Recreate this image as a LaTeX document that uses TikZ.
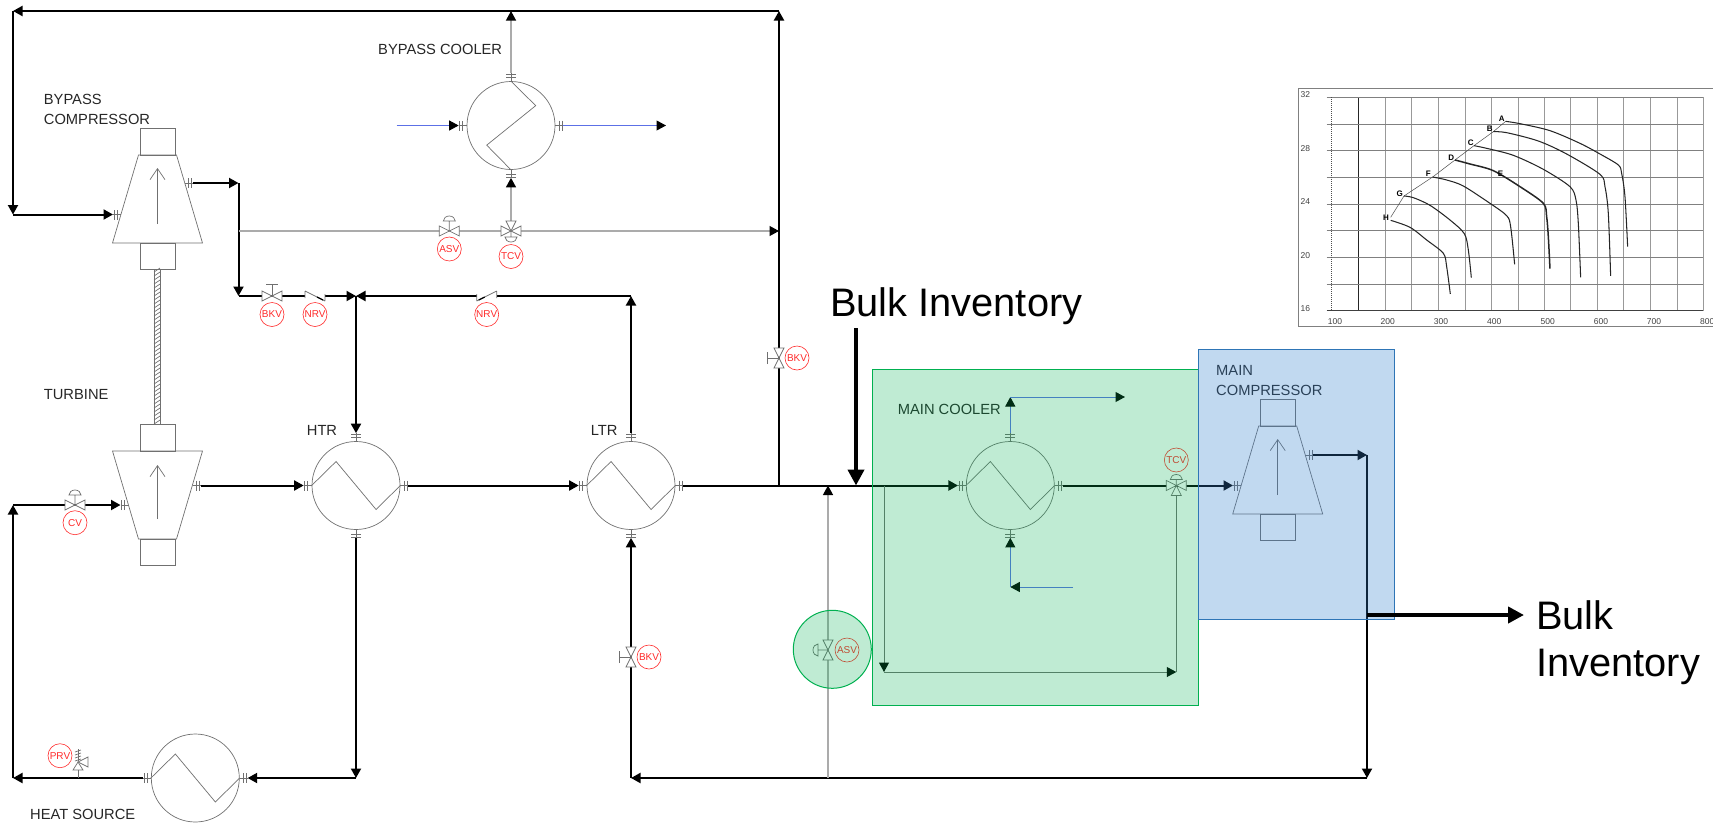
\documentclass[tikz,border=0pt]{standalone}
\usepackage{tikz}
\usepackage{fontspec}
\setmainfont{Liberation Sans}
\usetikzlibrary{arrows.meta}

\definecolor{pipegrey}{HTML}{ABABAB}
\definecolor{equipgrey}{HTML}{707070}
\definecolor{coolblue}{HTML}{5C70E6}
\definecolor{tagred}{HTML}{FF2A2A}
\definecolor{boxgreen}{HTML}{00B050}
\definecolor{boxblue}{HTML}{2E75B6}
\definecolor{tintblue}{HTML}{3380CC}

\newcommand{\valvebody}{\draw[equip,fill=white] (-10,-5) -- (10,5) -- (10,-5) -- (-10,5) -- cycle;}

\tikzset{
  tip/.style={-{Triangle[length=9.5pt,width=10pt,black]}},
  pipe/.style={line width=2pt,tip},
  bleed/.style={line width=1.2pt,pipegrey,tip},
  water/.style={line width=1pt,coolblue,tip},
  thinpipe/.style={line width=1pt,equipgrey},
  bulk/.style={line width=4.6pt,-{Triangle[length=16pt,width=16pt]}},
  equip/.style={line width=.7pt,equipgrey},
  hx/.style={circle,draw,line width=.7pt,equipgrey,minimum size=88pt,inner sep=0pt},
  tag/.style={circle,draw=tagred,text=tagred,line width=.6pt,minimum size=24pt,inner sep=0pt,font=\fontsize{10}{10}\selectfont},
  lbl/.style={anchor=west,align=left,inner sep=0pt,text=black!85,font=\fontsize{14.7}{20}\selectfont},
  bigtxt/.style={anchor=west,align=left,inner sep=0pt,font=\fontsize{39.8}{47}\selectfont},
  axistxt/.style={text=black!75,font=\fontsize{8.5}{8.5}\selectfont},
  curvetxt/.style={font=\bfseries\fontsize{8}{8}\selectfont},
  curve/.style={line width=1.05pt,black!85},
  pics/flange/.style={code={
    \draw[equip] (0,0) -- (8,0) (4,-5) -- (4,5) (7,-5) -- (7,5);
  }},
  pics/handvalve/.style={code={
    \valvebody
    \draw[equip] (0,0) -- (0,-12) (-6,-12) -- (6,-12);
  }},
  pics/ctrlvalve/.style={code={
    \valvebody
    \draw[equip] (0,0) -- (0,-10) (-6,-10) arc[start angle=180,end angle=360,x radius=6,y radius=5] -- cycle;
  }},
  pics/threeway/.style={code={
    \valvebody
    \draw[equip,fill=white] (0,0) -- (-5,-10) -- (5,-10) -- cycle;
    \draw[equip] (0,0) -- (0,6) (-6,6) arc[start angle=180,end angle=0,x radius=6,y radius=5] -- cycle;
  }},
  pics/checkvalve/.style={code={
    \fill[white] (-10,-6) rectangle (10,6);
    \draw[equip] (-10,-5) -- (-10,2) (10,-2) -- (10,5) (-10,-5) -- (10,5);
    \draw[line width=1.2pt] (2,1) -- (8,4);
  }},
  pics/reliefvalve/.style={code={
    \draw[equip,fill=white] (0,-4) -- (-5,4) -- (5,4) -- cycle;
    \draw[equip,fill=white] (0,-4) -- (10,-9) -- (10,1) -- cycle;
    \draw[equip] (0,-5) -- (0,-17);
    \foreach \y in {-15,-12,-9,-6} {\draw[equip] (-3,\y+1) -- (3,\y-1);}
  }},
  pics/compressor/.style={code={
    \draw[equip] (-17.5,-70.5) rectangle (17.5,-44);
    \draw[equip] (-19,-44) -- (19,-44) -- (45,44) -- (-45,44) -- cycle;
    \draw[equip] (-17.5,44) rectangle (17.5,70.5);
    \draw[equip,-{Straight Barb[length=11pt,width=15pt]}] (0,25) -- (0,-31);
  }},
  pics/turbine/.style={code={
    \draw[equip] (-17.5,-70.5) rectangle (17.5,-44);
    \draw[equip] (-45,-44) -- (45,-44) -- (19,44) -- (-19,44) -- cycle;
    \draw[equip] (-17.5,44) rectangle (17.5,70.5);
    \draw[equip,-{Straight Barb[length=11pt,width=15pt]}] (0,24) -- (0,-30);
  }},
}

\begin{document}
\begin{tikzpicture}[x=1pt,y=-1pt]
\useasboundingbox (0,0) rectangle (1713,825);

% heat exchangers
\foreach \n/\x/\y in {htr/356/485.5,ltr/631/485.5,hs/195.3/778,mc/1010.3/485.5,bc/511/125.5}{
  \node [hx] (\n) at (\x,\y) {};
  \coordinate (\n-w) at ([xshift=-8pt]\n.west);
  \coordinate (\n-e) at ([xshift=8pt]\n.east);
  \coordinate (\n-n) at ([yshift=8pt]\n.north);
  \coordinate (\n-s) at ([yshift=-8pt]\n.south);
  \path (\n.west) pic[rotate=180] {flange};
  \path (\n.east) pic {flange};
}
\foreach \n in {htr,ltr,mc,bc}{
  \path (\n.north) pic[rotate=90] {flange};
  \path (\n.south) pic[rotate=-90] {flange};
}
\foreach \n in {htr,ltr,hs,mc}{
  \draw[equip] (\n.west) -- ++(24.4,-24) -- ++(40,48) -- (\n.east);
}
\draw[equip] (bc.north) -- ++(24.7,24.5) -- ++(-49,39.5) -- (bc.south);

% machines
\path (157.5,199) pic {compressor};
\path (157.5,495) pic {turbine};
\path (1277.7,470) pic {compressor};
\draw[equip] (154,269) rectangle (160,424.5);
\foreach \y in {272,276,...,424}{
  \draw[equip] (154,\y) -- (160,\y-4);
}
\foreach \x/\y/\r in {120.9/214.5/180,184.8/183/0,128.5/505/180,192.5/485.5/0,1241.3/485.5/180,1305/455/0}{
  \path (\x,\y) pic[rotate=\r] {flange};
}

% free ends and corners
\coordinate (tl) at (13,11);
\coordinate (tr) at (779,11);
\coordinate (tc) at (511,11);
\coordinate (cin) at (113,214.5);
\coordinate (cl) at (13,214.5);
\coordinate (cout) at (192.8,183);
\coordinate (co) at (238.5,183);
\coordinate (cb) at (238.5,296);
\coordinate (ctee) at (238.5,231);
\coordinate (jt) at (356,296);
\coordinate (lt) at (631,296);
\coordinate (tin) at (120.5,505);
\coordinate (tl2) at (13,505);
\coordinate (bl) at (13,778);
\coordinate (hb) at (356,778);
\coordinate (tout) at (200.5,485.5);
\coordinate (trj) at (779,485.5);
\coordinate (tvb) at (511,231);
\coordinate (rt) at (779,231);
\coordinate (wa) at (396.7,125.5);
\coordinate (wb) at (666,125.5);
\coordinate (wc) at (1010.3,397);
\coordinate (wd) at (1125,397);
\coordinate (we) at (1073,587);
\coordinate (wf) at (1010.3,587);
\coordinate (tv) at (1176.3,485.5);
\coordinate (mcin) at (1233,485.5);
\coordinate (mcout) at (1313,455);
\coordinate (ro) at (1367,455);
\coordinate (rb) at (1367,778);
\coordinate (lb) at (631,778);
\coordinate (ab) at (828,778);
\coordinate (at) at (828,485.5);
\coordinate (sa) at (884,485.5);
\coordinate (sb) at (884,672);
\coordinate (sc) at (1176.3,672);
\coordinate (bulka) at (856,328);
\coordinate (bulkb) at (856,485.5);
\coordinate (bulkc) at (1367,615);
\coordinate (bulkd) at (1524,615);

% main loop
\draw[pipe] (tr) -- (tl);
\draw[pipe] (tl) -- (cl);
\draw[pipe] (cl) -- (cin);
\draw[pipe] (cout) -- (co);
\draw[pipe] (co) -- (cb);
\draw[pipe] (cb) -- (jt);
\draw[pipe] (lt) -- (jt);
\draw[pipe] (jt) -- (htr-n);
\draw[pipe] (tout) -- (htr-w);
\draw[pipe] (htr-e) -- (ltr-w);
\draw[pipe] (ltr-n) -- (lt);
\draw[pipe] (htr-s) -- (hb);
\draw[pipe] (hb) -- (hs-e);
\draw[pipe] (hs-w) -- (bl);
\draw[pipe] (bl) -- (tl2);
\draw[pipe] (tl2) -- (tin);
\draw[pipe] (trj) -- (tr);
\draw[pipe] (ltr-e) -- (mc-w);
\draw[pipe] (mc-e) -- (mcin);
\draw[pipe] (mcout) -- (ro);
\draw[pipe] (ro) -- (rb);
\draw[pipe] (rb) -- (lb);
\draw[pipe] (lb) -- (ltr-s);

% bypass and cooling water
\draw[bleed] (ctee) -- (rt);
\draw[bleed] (tvb) -- (bc-s);
\draw[bleed] (bc-n) -- (tc);
\draw[bleed] (ab) -- (at);
\draw[water] (wa) -- (bc-w);
\draw[water] (bc-e) -- (wb);
\draw[water] (mc-n) -- (wc);
\draw[water] (wc) -- (wd);
\draw[water] (we) -- (wf);
\draw[water] (wf) -- (mc-s);
\draw[thinpipe,tip] (sa) -- (sb);
\draw[thinpipe,tip] (sb) -- (sc);
\draw[thinpipe] (sc) -- (tv);

% valves
\path (272,296) pic {handvalve};
\path (315,296) pic {checkvalve};
\path (486.7,296) pic[xscale=-1] {checkvalve};
\path (449.3,231) pic {ctrlvalve};
\path (tvb) pic {threeway};
\path (75,505) pic {ctrlvalve};
\path (78,766) pic {reliefvalve};
\draw[equip] (78,778) -- (78,770);
\path (779,358) pic[rotate=90] {handvalve};
\path (631,657) pic[rotate=90] {handvalve};
\path (828,650) pic[rotate=90] {ctrlvalve};
\path (tv) pic[rotate=180] {threeway};

% valve tags
\node [tag] (bkva) at (272,314.5) {BKV};
\node [tag] (nrva) at (315,314.5) {NRV};
\node [tag] (nrvb) at (486.7,314.5) {NRV};
\node [tag] (asva) at (449.3,249) {ASV};
\node [tag] (tcva) at (511,256.5) {TCV};
\node [tag] (cv) at (75,522.7) {CV};
\node [tag] (prv) at (60,755.7) {PRV};
\node [tag] (bkvb) at (797,358) {BKV};
\node [tag] (bkvc) at (649,657) {BKV};
\node [tag] (asvb) at (847,650) {ASV};
\node [tag] (tcvb) at (1176.3,460) {TCV};

% labels
\node [lbl] (bcl) at (378,49) {BYPASS COOLER};
\node [lbl] (bcp) at (43.7,109) {BYPASS\\COMPRESSOR};
\node [lbl] (tbl) at (43.7,395) {TURBINE};
\node [lbl] (htrl) at (306.7,430) {HTR};
\node [lbl] (ltrl) at (590.7,430) {LTR};
\node [lbl] (hsl) at (30,814.5) {HEAT SOURCE};
\node [lbl] (mcl) at (897.7,409) {MAIN COOLER};
\node [lbl] (mcp) at (1216,381) {MAIN\\COMPRESSOR};

% highlight boxes
\draw[boxgreen,line width=1pt,fill=boxgreen,fill opacity=.25] (872.3,369) rectangle (1198.3,705.3);
\draw[boxblue,line width=1pt,fill=tintblue,fill opacity=.3] (1198.3,349) rectangle (1394,619.3);
\node [circle,draw=boxgreen,fill=boxgreen,fill opacity=.25,draw opacity=1,line width=1pt,minimum size=78pt,inner sep=0pt] (asvspot) at (832.3,649.3) {};

% inventory arrows
\draw[bulk] (bulka) -- (bulkb);
\draw[bulk] (bulkc) -- (bulkd);
\node [bigtxt] (bulkl) at (830,306.5) {Bulk Inventory};
\node [bigtxt] (bulkr) at (1536,643) {Bulk\\Inventory};

% compressor map
\begin{scope}[shift={(1280,80)},x=.3333pt,y=-.3333pt]
\draw[line width=.7pt,black!50] (1299,25) -- (55,25) -- (55,738) -- (1299,738);
\foreach \g in {316,394,475,555,634,714,793,871,952,1031,1111,1191,1270}{
  \draw[line width=.6pt,black!40] (\g,52) -- (\g,692);
}
\draw[line width=.7pt,black!85] (235,52) -- (235,692);
\foreach \g in {52,132,212,292,372,452,532,612}{
  \draw[line width=.6pt,black!50] (140,\g) -- (1270,\g);
}
\draw[line width=.8pt,black!75] (140,692) -- (1270,692);
\draw[line width=.8pt,black!70,dash pattern=on .6pt off 1.4pt] (155,52) -- (155,692);
\foreach \v/\g in {32/45,28/205,24/365,20/526,16/685}{
  \node [axistxt] (y\v) at (76,\g) {\v};
}
\foreach \v/\g in {100/165,200/323,300/483,400/643,500/803,600/963,700/1122,800/1282}{
  \node [axistxt] (x\v) at (\g,725) {\v};
}
\draw[line width=.5pt,black!70] (332,412) -- (372,348) -- (458,291) -- (525,240) -- (582,197) -- (640,155) -- (677,124);
\draw[curve] plot[smooth,tension=.5] coordinates {(677,124) (720,131) (810,152) (900,190) (960,222) (1015,255) (1025,280) (1035,350) (1043,500)};
\draw[curve] plot[smooth,tension=.5] coordinates {(640,155) (680,158) (775,183) (860,222) (960,283) (975,320) (985,400) (992,588)};
\draw[curve] plot[smooth,tension=.5] coordinates {(582,197) (620,205) (700,226) (790,268) (870,320) (888,360) (895,430) (902,592)};
\draw[curve,line width=1.5pt] plot[smooth,tension=.5] coordinates {(525,240) (570,252) (640,272) (720,320) (790,370) (800,410) (805,470) (810,566)};
\draw[curve] plot[smooth,tension=.5] coordinates {(458,291) (500,300) (550,318) (630,370) (680,407) (692,440) (704,553)};
\draw[curve] plot[smooth,tension=.5] coordinates {(372,348) (400,353) (450,376) (510,420) (553,461) (565,510) (574,593)};
\draw[curve] plot[smooth,tension=.5] coordinates {(332,421) (390,442) (440,480) (490,520) (500,560) (511,642)};
\foreach \t/\x/\y in {A/665/117,B/629/147,C/572/188,D/514/232,E/662/282,F/445/281,G/359/341,H/318/412}{
  \node [curvetxt] (k\t) at (\x,\y) {\t};
}
\end{scope}
\end{tikzpicture}
\end{document}
